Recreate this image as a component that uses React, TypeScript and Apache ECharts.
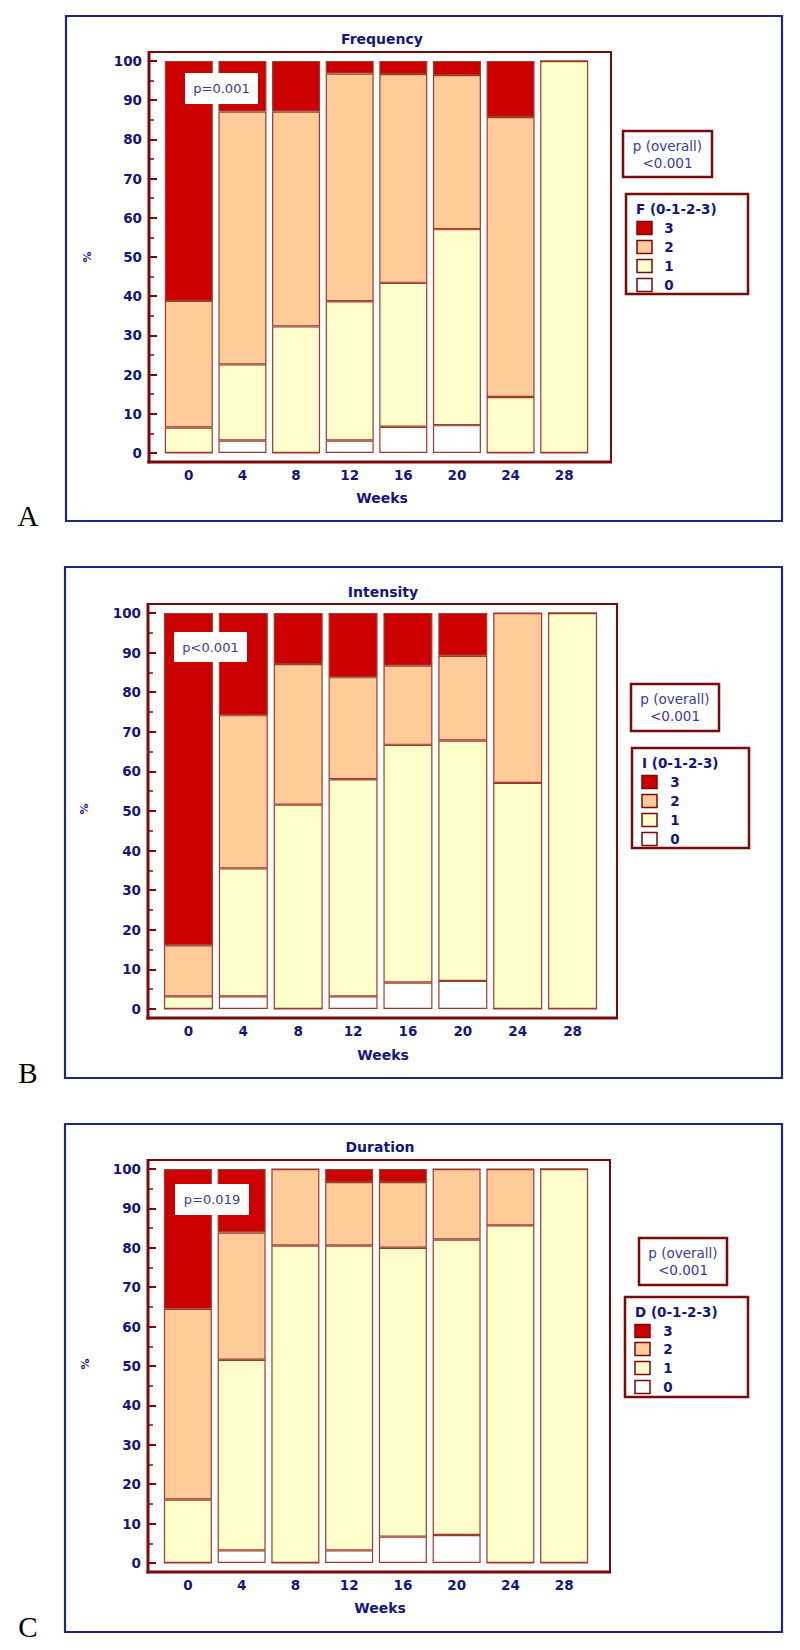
import React, { useEffect, useRef } from 'react';
import * as echarts from 'echarts';

// ---------- data ----------
const weeks = ['0', '4', '8', '12', '16', '20', '24', '28'];
const scoreLevels = ['0', '1', '2', '3'];

// Frequency (F 0-1-2-3), % of patients per score
const freqScore0 = [0, 3.2, 0, 3.2, 6.7, 7.1, 0, 0];
const freqScore1 = [6.5, 19.4, 32.3, 35.5, 36.7, 50.0, 14.3, 100];
const freqScore2 = [32.3, 64.5, 54.8, 58.1, 53.3, 39.3, 71.4, 0];
const freqScore3 = [61.2, 12.9, 12.9, 3.2, 3.3, 3.6, 14.3, 0];

// Intensity (I 0-1-2-3)
const intScore0 = [0, 3.2, 0, 3.2, 6.7, 7.1, 0, 0];
const intScore1 = [3.2, 32.3, 51.6, 54.8, 60.0, 60.7, 57.1, 100];
const intScore2 = [12.9, 38.7, 35.5, 25.8, 20.0, 21.4, 42.9, 0];
const intScore3 = [83.9, 25.8, 12.9, 16.2, 13.3, 10.8, 0, 0];

// Duration (D 0-1-2-3)
const durScore0 = [0, 3.2, 0, 3.2, 6.7, 7.1, 0, 0];
const durScore1 = [16.1, 48.4, 80.6, 77.4, 73.3, 75.0, 85.7, 100];
const durScore2 = [48.4, 32.3, 19.4, 16.1, 16.7, 17.9, 14.3, 0];
const durScore3 = [35.5, 16.1, 0, 3.3, 3.3, 0, 0, 0];

const panelTitles = ['Frequency', 'Intensity', 'Duration'];
const panelLetters = ['A', 'B', 'C'];
const legendTitles = ['F (0-1-2-3)', 'I (0-1-2-3)', 'D (0-1-2-3)'];
const pInner = ['p=0.001', 'p<0.001', 'p=0.019'];
const pOverallLabel = 'p (overall)';
const pOverallValue = ['<0.001', '<0.001', '<0.001'];
const xAxisName = 'Weeks';
const yAxisName = '%';

// ---------- styles ----------
const MAROON = '#7A0A0A';
const BAR_BORDER = '#9E3B2C';
const NAVY = '#14167E';
const PTEXT = '#3B3B9C';
const OUTER = '#1E2A78';
const LEVEL_COLORS = ['#FFFFFF', '#FFFFCC', '#FFCC99', '#CC0000'];
const FONT = '"DejaVu Sans", Verdana, sans-serif';

type Layout = {
  outer: [number, number, number, number];
  frame: [number, number, number, number];
  grid: { left: number; top: number; width: number; height: number };
  barWidth: number;
  axisOffsetY: number;
  title: [number, number];
  weeks: [number, number];
  pct: [number, number];
  letter: [number, number];
  pInnerBox: [number, number, number, number];
  pBox: [number, number, number, number];
  legBox: [number, number, number, number];
  legTitleX: number;
  legRowY: number[];
  swatchX: number;
  legLabelX: number;
};

const layouts: Layout[] = [
  {
    outer: [66, 16, 782, 521],
    frame: [149, 52, 611, 462],
    grid: { left: 162, top: 61, width: 429, height: 392 },
    barWidth: 48,
    axisOffsetY: 13,
    title: [382, 39],
    weeks: [382, 498],
    pct: [87, 257],
    letter: [28, 516],
    pInnerBox: [185, 73, 258, 104],
    pBox: [623, 131, 712, 177],
    legBox: [626, 194, 748, 294],
    legTitleX: 636,
    legRowY: [285, 266, 247, 228],
    swatchX: 637,
    legLabelX: 669,
  },
  {
    outer: [65, 567, 782, 1078],
    frame: [148, 604, 617, 1018],
    grid: { left: 161, top: 613, width: 439, height: 396 },
    barWidth: 49,
    axisOffsetY: 13,
    title: [383, 592],
    weeks: [383, 1055],
    pct: [84, 809],
    letter: [28, 1073],
    pInnerBox: [174, 632, 247, 662],
    pBox: [631, 684, 719, 731],
    legBox: [632, 748, 749, 848],
    legTitleX: 642,
    legRowY: [839, 820, 801, 782],
    swatchX: 642,
    legLabelX: 675,
  },
  {
    outer: [65, 1124, 782, 1632],
    frame: [148, 1160, 610, 1572],
    grid: { left: 161, top: 1169, width: 430, height: 394 },
    barWidth: 48,
    axisOffsetY: 13,
    title: [380, 1147],
    weeks: [380, 1608],
    pct: [85, 1364],
    letter: [28, 1627],
    pInnerBox: [175, 1184, 249, 1215],
    pBox: [639, 1238, 727, 1285],
    legBox: [625, 1297, 748, 1397],
    legTitleX: 635,
    legRowY: [1387, 1368, 1349, 1331],
    swatchX: 635,
    legLabelX: 668,
  },
];

const panelData = [
  [freqScore0, freqScore1, freqScore2, freqScore3],
  [intScore0, intScore1, intScore2, intScore3],
  [durScore0, durScore1, durScore2, durScore3],
];

function txt(x: number, y: number, text: string, opts: any = {}) {
  return {
    type: 'text',
    x,
    y,
    z: 100,
    rotation: opts.rotation || 0,
    style: {
      text,
      fill: opts.fill || NAVY,
      fontSize: opts.fontSize || 13.5,
      fontWeight: opts.fontWeight || 'bold',
      fontFamily: opts.fontFamily || FONT,
      align: opts.align || 'center',
      verticalAlign: 'middle',
    },
  };
}

function rectEl(x1: number, y1: number, x2: number, y2: number, fill: string, stroke: string, lw: number, z = 90) {
  return {
    type: 'rect',
    z,
    shape: { x: x1, y: y1, width: x2 - x1, height: y2 - y1 },
    style: { fill, stroke, lineWidth: lw },
  };
}

function lineEl(x1: number, y1: number, x2: number, y2: number, stroke: string, lw: number) {
  return {
    type: 'line',
    z: 95,
    shape: { x1, y1, x2, y2 },
    style: { stroke, lineWidth: lw },
  };
}

function buildOption() {
  const grid: any[] = [];
  const xAxis: any[] = [];
  const yAxis: any[] = [];
  const series: any[] = [];
  const graphic: any[] = [];

  layouts.forEach((L, i) => {
    grid.push({ ...L.grid });
    xAxis.push({
      type: 'category',
      gridIndex: i,
      data: weeks,
      boundaryGap: true,
      offset: L.frame[3] - (L.grid.top + L.grid.height),
      axisLine: { show: false },
      axisTick: { show: true, inside: true, alignWithLabel: true, length: 8, lineStyle: { color: MAROON, width: 2 } },
      axisLabel: { color: NAVY, fontWeight: 'bold', fontSize: 13.5, fontFamily: FONT, margin: 6 },
      splitLine: { show: false },
    });
    yAxis.push({
      type: 'value',
      gridIndex: i,
      min: 0,
      max: 100,
      interval: 10,
      offset: L.grid.left - L.frame[0],
      axisLine: { show: false },
      axisTick: { show: true, inside: true, length: 8, lineStyle: { color: MAROON, width: 2 } },
      minorTick: { show: true, splitNumber: 2, length: 5, lineStyle: { color: MAROON, width: 1.5 } },
      splitLine: { show: false },
      minorSplitLine: { show: false },
      axisLabel: { color: NAVY, fontWeight: 'bold', fontSize: 13.5, fontFamily: FONT, margin: 7 },
    });
    panelData[i].forEach((vals, k) => {
      series.push({
        type: 'bar',
        name: scoreLevels[k],
        xAxisIndex: i,
        yAxisIndex: i,
        stack: 'panel' + i,
        barWidth: L.barWidth,
        data: vals,
        silent: true,
        itemStyle: { color: LEVEL_COLORS[k], borderColor: BAR_BORDER, borderWidth: 1.2 },
      });
    });

    const [ox1, oy1, ox2, oy2] = L.outer;
    graphic.push(rectEl(ox1, oy1, ox2, oy2, 'none', OUTER, 2.2, 80));
    const [fx1, fy1, fx2, fy2] = L.frame;
    graphic.push(rectEl(fx1, fy1, fx2, fy2, 'none', MAROON, 2, 90));
    graphic.push(lineEl(fx1, fy1 - 1, fx1, fy2 + 1.5, MAROON, 3));
    graphic.push(lineEl(fx1 - 1.5, fy2, fx2 + 1, fy2, MAROON, 3));

    graphic.push(txt(L.title[0], L.title[1], panelTitles[i], { fontSize: 14 }));
    graphic.push(txt(L.weeks[0], L.weeks[1], xAxisName, { fontSize: 14 }));
    graphic.push(txt(L.pct[0], L.pct[1], yAxisName, { fontSize: 11, rotation: Math.PI / 2 }));
    graphic.push(
      txt(L.letter[0], L.letter[1], panelLetters[i], {
        fontSize: 29,
        fontWeight: 'normal',
        fontFamily: '"Liberation Serif", "Times New Roman", serif',
        fill: '#000000',
      })
    );

    const [px1, py1, px2, py2] = L.pInnerBox;
    graphic.push(rectEl(px1, py1, px2, py2, '#FFFFFF', '#FFFFFF', 0, 98));
    graphic.push(txt((px1 + px2) / 2, (py1 + py2) / 2, pInner[i], { fontWeight: 'normal', fill: PTEXT, fontSize: 13 }));

    const [bx1, by1, bx2, by2] = L.pBox;
    graphic.push(rectEl(bx1, by1, bx2, by2, '#FFFFFF', MAROON, 2.5, 90));
    const bcx = (bx1 + bx2) / 2;
    graphic.push(txt(bcx, by1 + 15, pOverallLabel, { fontWeight: 'normal', fill: PTEXT, fontSize: 13.5 }));
    graphic.push(txt(bcx, by1 + 32, pOverallValue[i], { fontWeight: 'normal', fill: PTEXT, fontSize: 13.5 }));

    const [lx1, ly1, lx2, ly2] = L.legBox;
    graphic.push(rectEl(lx1, ly1, lx2, ly2, '#FFFFFF', MAROON, 2.5, 90));
    graphic.push(txt(L.legTitleX, ly1 + 15, legendTitles[i], { align: 'left', fontSize: 13.5 }));
    scoreLevels.forEach((lv, k) => {
      const cy = L.legRowY[k];
      graphic.push(rectEl(L.swatchX, cy - 6.5, L.swatchX + 15, cy + 6.5, LEVEL_COLORS[k], MAROON, 1.5, 96));
      graphic.push(txt(L.legLabelX, cy, lv, { fontSize: 13.5 }));
    });
  });

  return {
    animation: false,
    backgroundColor: '#FFFFFF',
    grid,
    xAxis,
    yAxis,
    series,
    graphic: { elements: graphic },
  };
}

export default function App() {
  const ref = useRef<HTMLDivElement>(null);
  useEffect(() => {
    if (!ref.current) return;
    const chart = echarts.init(ref.current, undefined, { renderer: 'svg' });
    chart.setOption(buildOption() as any);
    return () => chart.dispose();
  }, []);
  return (
    <div
      ref={ref}
      style={{ position: 'absolute', left: 0, top: 0, width: 800, height: 1650, background: '#FFFFFF' }}
    />
  );
}
